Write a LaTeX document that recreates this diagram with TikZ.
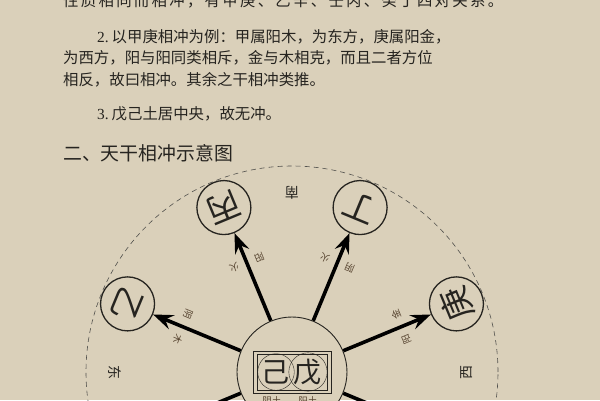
\documentclass[tikz,border=0pt]{standalone}
\usepackage{fontspec}
\setmainfont{Noto Sans CJK SC}
\newfontfamily\numfont{Liberation Serif}
\usetikzlibrary{arrows.meta}
\definecolor{paper}{RGB}{218,208,186}
\definecolor{ink}{RGB}{38,36,32}
\definecolor{tagc}{RGB}{85,66,46}
\tikzset{
	gan/.style={circle,draw=ink,line width=1.3pt,fill=paper,minimum size=54pt,inner sep=0pt,text=ink,font=\fontsize{33}{33}\selectfont},
	fang/.style={inner sep=0pt,text=ink,font=\fontsize{14}{14}\selectfont},
	tagtext/.style={inner sep=0pt,text=tagc,font=\fontsize{9.5}{9.5}\selectfont},
	body/.style={anchor=west,inner sep=0pt,text=ink,font=\fontsize{15.4}{15.4}\selectfont},
	chong/.style={draw=black,line width=3.6pt,-{Stealth[length=20pt,width=15pt,inset=7pt]}}
}
\begin{document}
\begin{tikzpicture}[x=1pt,y=1pt]
	\fill[paper] (-292,-28) rectangle (308,372);
	\useasboundingbox (-292,-28) rectangle (308,372);
	\node[body] (line0) at (-229,371) {\makebox[440pt][s]{性\hfil 质\hfil 相\hfil 同\hfil 而\hfil 相\hfil 冲\hfil ，\hfil 有\hfil 甲\hfil 庚\hfil 、\hfil 乙\hfil 辛\hfil 、\hfil 壬\hfil 丙\hfil 、\hfil 癸\hfil 丁\hfil 四\hfil 对\hfil 关\hfil 系\hfil 。}};
	\node[body] (line2) at (-195,335) {{\numfont 2.}\hspace{3pt}以甲庚相冲为例：甲属阳木，为东方，庚属阳金，};
	\node[body] (line3) at (-229,314) {为西方，阳与阳同类相斥，金与木相克，而且二者方位};
	\node[body] (line4) at (-229,292) {相反，故曰相冲。其余之干相冲类推。};
	\node[body] (line5) at (-195,258) {{\numfont 3.}\hspace{3pt}戊己土居中央，故无冲。};
	\node[body,font=\fontsize{18.9}{18.9}\selectfont] (title) at (-229,219) {二、天干相冲示意图};
	\draw[ink!80,line width=0.6pt,dash pattern=on 5pt off 4pt] (0,0) circle (206);
	\node[circle,draw=ink,line width=0.9pt,fill=paper,minimum size=110pt] (zhong) at (0,0) {};
	\draw[ink,line width=0.8pt] (-39,-21) rectangle (39,21);
	\draw[ink,line width=0.8pt] (-35,-18) rectangle (35,18);
	\node[circle,draw=ink,line width=0.4pt,minimum size=34pt,inner sep=0pt,text=ink,font=\fontsize{28}{28}\selectfont] (ji) at (-16,0) {己};
	\node[circle,draw=ink,line width=0.4pt,minimum size=34pt,inner sep=0pt,text=ink,font=\fontsize{28}{28}\selectfont] (wu) at (16,0) {戊};
	\node[tagtext] (jitu) at (-20,-29) {阴土};
	\node[tagtext] (wutu) at (16,-29) {阳土};
	\node[fang,rotate=180] (nan) at (90:179) {南};
	\node[fang,rotate=270] (dong) at (180:177) {东};
	\node[fang,rotate=90] (xi) at (0:175) {西};
	\foreach \name/\ch/\ang/\xing/\yy in {yi/乙/157.5/木/阴, bing/丙/112.5/火/阳, ding/丁/67.5/火/阴, geng/庚/22.5/金/阳}{
		\node[gan,rotate=\ang+90] (\name) at (\ang:178) {\ch};
		\draw[chong] (zhong) -- (\name);
		\node[tagtext,rotate=\ang+90] (\name-xing) at (\ang+6.5:119) {\xing};
		\node[tagtext,rotate=\ang+90] (\name-yy) at (\ang-6.5:119) {\yy};
	}
	\coordinate (jia) at (202.5:84);
	\coordinate (xin) at (337.5:84);
	\draw[black,line width=3.6pt] (zhong) -- (jia);
	\draw[black,line width=3.6pt] (zhong) -- (xin);
\end{tikzpicture}
\end{document}
